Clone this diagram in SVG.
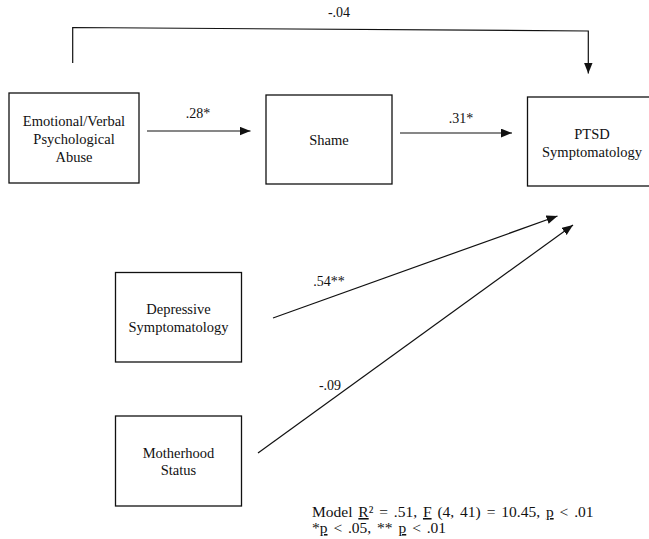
<svg xmlns="http://www.w3.org/2000/svg" width="649" height="539" viewBox="0 0 649 539">
<style>
.box{fill:#fff;stroke:#111;stroke-width:1.3}
.lbl{font-family:"Liberation Serif","Times New Roman",serif;font-size:14.5px;fill:#111;text-anchor:middle}
.coef{font-family:"Liberation Serif","Times New Roman",serif;font-size:14px;fill:#111;text-anchor:middle}
.note{font-family:"Liberation Serif","Times New Roman",serif;font-size:15.5px;fill:#111;word-spacing:2px}
.ln{fill:none;stroke:#111;stroke-width:1.2}
</style>
<defs>
<marker id="ah" viewBox="0 0 10 8" refX="10" refY="4" markerWidth="11" markerHeight="9" markerUnits="userSpaceOnUse" orient="auto">
<path d="M0,0 L10,4 L0,8 Z" fill="#111"/>
</marker>
</defs>
<rect width="649" height="539" fill="#fff"/>
<g id="emotional">
<rect class="box" x="9" y="93" width="130" height="90"/>
<text class="lbl" x="74" y="126">Emotional/Verbal</text>
<text class="lbl" x="74" y="144">Psychological</text>
<text class="lbl" x="74" y="162">Abuse</text>
</g>
<g id="shame">
<rect class="box" x="266" y="95" width="126" height="89"/>
<text class="lbl" x="329" y="145">Shame</text>
</g>
<g id="ptsd">
<rect class="box" x="527.5" y="97" width="130" height="89"/>
<text class="lbl" x="592" y="139">PTSD</text>
<text class="lbl" x="592" y="157">Symptomatology</text>
</g>
<g id="depressive">
<rect class="box" x="115.5" y="272.5" width="126" height="89.5"/>
<text class="lbl" x="178.5" y="314">Depressive</text>
<text class="lbl" x="178.5" y="332">Symptomatology</text>
</g>
<g id="motherhood">
<rect class="box" x="115.5" y="416" width="126" height="90"/>
<text class="lbl" x="178.5" y="458">Motherhood</text>
<text class="lbl" x="178.5" y="475">Status</text>
</g>
<g id="connectors">
<polyline class="ln" points="72.7,63 72.7,27.5 588.3,31 588.3,73.5" marker-end="url(#ah)"/>
<line class="ln" x1="147" y1="131" x2="250.5" y2="131" marker-end="url(#ah)"/>
<line class="ln" x1="400" y1="133" x2="512" y2="133" marker-end="url(#ah)"/>
<line class="ln" x1="273" y1="318" x2="557.5" y2="216" marker-end="url(#ah)"/>
<line class="ln" x1="258" y1="453" x2="573" y2="225" marker-end="url(#ah)"/>
<text class="coef" x="339" y="17">-.04</text>
<text class="coef" x="198" y="118">.28*</text>
<text class="coef" x="461" y="123">.31*</text>
<text class="coef" x="329" y="286">.54**</text>
<text class="coef" x="330" y="390">-.09</text>
</g>
<g id="footnote">
<text class="note" x="312" y="517">Model <tspan text-decoration="underline">R</tspan>² = .51, <tspan text-decoration="underline">F</tspan> (4, 41) = 10.45, <tspan text-decoration="underline">p</tspan> &lt; .01</text>
<text class="note" x="312" y="533">*<tspan text-decoration="underline">p</tspan> &lt; .05, ** <tspan text-decoration="underline">p</tspan> &lt; .01</text>
</g>
</svg>
